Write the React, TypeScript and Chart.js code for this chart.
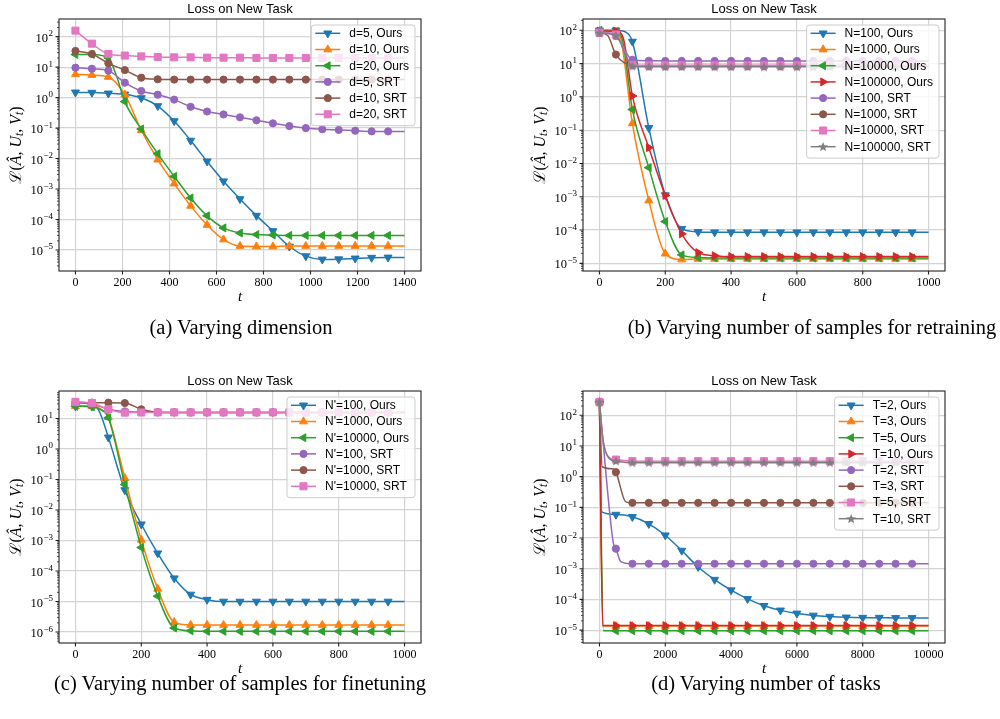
import React, { useEffect, useRef } from "react";
import { Chart, registerables } from "chart.js";

Chart.register(...registerables);

const BLUE = "#1f77b4";
const ORANGE = "#ff7f0e";
const GREEN = "#2ca02c";
const RED = "#d62728";
const PURPLE = "#9467bd";
const BROWN = "#8c564b";
const PINK = "#e377c2";
const GRAY = "#7f7f7f";

const TITLE = "Loss on New Task";

// ---------------- Panel (a): varying dimension ----------------
const T_A = [0, 70, 140, 210, 280, 350, 420, 490, 560, 630, 700, 770, 840, 910, 980, 1050, 1120, 1190, 1260, 1330, 1400];
const A_LABELS = ["d=5, Ours", "d=10, Ours", "d=20, Ours", "d=5, SRT", "d=10, SRT", "d=20, SRT"];
const A_D5_OURS = [1.49, 1.46, 1.38, 1.28, 0.97, 0.53, 0.17, 0.039, 0.0081, 0.0018, 4.7e-4, 1.34e-4, 4.2e-5, 1.3e-5, 6.3e-6, 4.9e-6, 5.0e-6, 5.3e-6, 5.6e-6, 5.7e-6, 5.7e-6];
const A_D10_OURS = [5.8, 5.5, 4.75, 1.25, 0.085, 0.0092, 0.0015, 2.8e-4, 6.6e-5, 2.2e-5, 1.35e-5, 1.3e-5, 1.3e-5, 1.35e-5, 1.35e-5, 1.35e-5, 1.35e-5, 1.35e-5, 1.35e-5, 1.35e-5, 1.35e-5];
const A_D20_OURS = [26, 26, 20, 0.74, 0.093, 0.0145, 0.0026, 5.1e-4, 1.32e-4, 5.3e-5, 3.6e-5, 3.2e-5, 3.1e-5, 3.0e-5, 3.0e-5, 3.0e-5, 3.0e-5, 3.0e-5, 3.0e-5, 3.0e-5, 3.0e-5];
const A_D5_SRT = [9.6, 8.9, 7.7, 3.1, 1.65, 1.25, 0.86, 0.5, 0.35, 0.28, 0.225, 0.18, 0.143, 0.117, 0.1, 0.091, 0.087, 0.082, 0.078, 0.078, 0.077];
const A_D10_SRT = [34, 27, 13.3, 8.0, 4.5, 4.0, 3.9, 3.9, 3.9, 3.9, 3.9, 3.9, 3.9, 3.9, 3.9, 3.9, 3.9, 3.9, 3.9, 3.9, 3.9];
const A_D20_SRT = [158, 59, 27, 24, 22.5, 21.5, 21, 21, 20.5, 20.5, 20.5, 20, 20, 20, 20, 20, 20, 20, 20, 20, 20];
const A_D20_OURS_KNEE = [[175, 5]];
const A_XTICKS = [0, 200, 400, 600, 800, 1000, 1200, 1400];
const A_YEXP = [2, 1, 0, -1, -2, -3, -4, -5];

// ---------------- Panel (b): samples for retraining ----------------
const T_B = [0, 50, 100, 150, 200, 250, 300, 350, 400, 450, 500, 550, 600, 650, 700, 750, 800, 850, 900, 950, 1000];
const B_LABELS = ["N=100, Ours", "N=1000, Ours", "N=10000, Ours", "N=100000, Ours", "N=100, SRT", "N=1000, SRT", "N=10000, SRT", "N=100000, SRT"];
const B_N100_OURS = [100, 100, 46, 0.117, 1.12e-3, 1.1e-4, 8.8e-5, 8.6e-5, 8.6e-5, 8.6e-5, 8.6e-5, 8.6e-5, 8.6e-5, 8.6e-5, 8.6e-5, 8.6e-5, 8.6e-5, 8.6e-5, 8.6e-5, 8.6e-5, 8.6e-5];
const B_N1000_OURS = [95, 88, 0.16, 7.7e-4, 1.95e-5, 1.3e-5, 1.35e-5, 1.35e-5, 1.35e-5, 1.35e-5, 1.35e-5, 1.35e-5, 1.35e-5, 1.35e-5, 1.35e-5, 1.35e-5, 1.35e-5, 1.35e-5, 1.35e-5, 1.35e-5, 1.35e-5];
const B_N10000_OURS = [100, 92, 0.42, 7.5e-3, 1.8e-4, 1.8e-5, 1.5e-5, 1.45e-5, 1.45e-5, 1.45e-5, 1.45e-5, 1.45e-5, 1.45e-5, 1.45e-5, 1.45e-5, 1.45e-5, 1.45e-5, 1.45e-5, 1.45e-5, 1.45e-5, 1.45e-5];
const B_N100000_OURS = [95, 95, 1.07, 0.03, 1.1e-3, 7.7e-5, 2.1e-5, 1.7e-5, 1.6e-5, 1.6e-5, 1.6e-5, 1.6e-5, 1.6e-5, 1.6e-5, 1.6e-5, 1.6e-5, 1.6e-5, 1.6e-5, 1.6e-5, 1.6e-5, 1.6e-5];
const B_N100_SRT = [92, 68, 13, 12.2, 12, 12, 12, 12, 12, 12, 12, 12, 12, 12, 12, 12, 12, 12, 12, 12, 12];
const B_N1000_SRT = [85, 18.7, 8.9, 8.3, 8.3, 8.3, 8.3, 8.3, 8.3, 8.3, 8.3, 8.3, 8.3, 8.3, 8.3, 8.3, 8.3, 8.3, 8.3, 8.3, 8.3];
const B_N10000_SRT = [85, 75, 9.1, 8.9, 8.9, 8.9, 8.9, 8.9, 8.9, 8.9, 8.9, 8.9, 8.9, 8.9, 8.9, 8.9, 8.9, 8.9, 8.9, 8.9, 8.9];
const B_N100000_SRT = [82, 70, 8.3, 8.0, 8.0, 8.0, 8.0, 8.0, 8.0, 8.0, 8.0, 8.0, 8.0, 8.0, 8.0, 8.0, 8.0, 8.0, 8.0, 8.0, 8.0];
const B_N100_OURS_KNEE = [[80, 88]];
const B_N1000_OURS_KNEE = [[65, 55]];
const B_N10000_OURS_KNEE = [[68, 60]];
const B_N100000_OURS_KNEE = [[72, 60]];
const B_N1000_SRT_KNEE = [[25, 70]];
const B_XTICKS = [0, 200, 400, 600, 800, 1000];
const B_YEXP = [2, 1, 0, -1, -2, -3, -4, -5];

// ---------------- Panel (c): samples for finetuning ----------------
const T_C = [0, 50, 100, 150, 200, 250, 300, 350, 400, 450, 500, 550, 600, 650, 700, 750, 800, 850, 900, 950, 1000];
const C_LABELS = ["N'=100, Ours", "N'=1000, Ours", "N'=10000, Ours", "N'=100, SRT", "N'=1000, SRT", "N'=10000, SRT"];
const C_N100_OURS = [25, 25, 2.4, 0.045, 3.4e-3, 3.8e-4, 5.8e-5, 1.7e-5, 1.15e-5, 1.0e-5, 1.0e-5, 1.0e-5, 1.0e-5, 1.0e-5, 1.0e-5, 1.0e-5, 1.0e-5, 1.0e-5, 1.0e-5, 1.0e-5, 1.0e-5];
const C_N1000_OURS = [25, 25, 11, 0.11, 1.05e-3, 2.6e-5, 2.1e-6, 1.7e-6, 1.7e-6, 1.7e-6, 1.7e-6, 1.7e-6, 1.7e-6, 1.7e-6, 1.7e-6, 1.7e-6, 1.7e-6, 1.7e-6, 1.7e-6, 1.7e-6, 1.7e-6];
const C_N10000_OURS = [25, 24, 10.5, 0.068, 5.9e-4, 1.5e-5, 1.35e-6, 1.1e-6, 1.05e-6, 1.05e-6, 1.05e-6, 1.05e-6, 1.05e-6, 1.05e-6, 1.05e-6, 1.05e-6, 1.05e-6, 1.05e-6, 1.05e-6, 1.05e-6, 1.05e-6];
const C_N100_SRT = [33, 30, 20, 17, 16.3, 15.8, 15.8, 15.8, 15.8, 15.8, 15.8, 15.8, 15.8, 15.8, 15.8, 15.8, 15.8, 15.8, 15.8, 15.8, 15.8];
const C_N1000_SRT = [34, 33, 33, 32, 20, 16, 15.8, 15.8, 15.8, 15.8, 15.8, 15.8, 15.8, 15.8, 15.8, 15.8, 15.8, 15.8, 15.8, 15.8, 15.8];
const C_N10000_SRT = [35, 32, 20, 15.5, 15.7, 15.8, 15.8, 15.8, 15.8, 15.8, 15.8, 15.8, 15.8, 15.8, 15.8, 15.8, 15.8, 15.8, 15.8, 15.8, 15.8];
const C_N100_OURS_KNEE = [[70, 19]];
const C_N1000_OURS_KNEE = [[75, 21]];
const C_N10000_OURS_KNEE = [[75, 20]];
const C_XTICKS = [0, 200, 400, 600, 800, 1000];
const C_YEXP = [1, 0, -1, -2, -3, -4, -5, -6];

// ---------------- Panel (d): number of tasks ----------------
const T_D = [0, 500, 1000, 1500, 2000, 2500, 3000, 3500, 4000, 4500, 5000, 5500, 6000, 6500, 7000, 7500, 8000, 8500, 9000, 9500, 10000];
const D_LABELS = ["T=2, Ours", "T=3, Ours", "T=5, Ours", "T=10, Ours", "T=2, SRT", "T=3, SRT", "T=5, SRT", "T=10, SRT"];
const D_T2_OURS = [270, 0.058, 0.049, 0.029, 0.0123, 3.9e-3, 1.14e-3, 4.4e-4, 2.0e-4, 1.04e-4, 6.2e-5, 4.4e-5, 3.5e-5, 3.0e-5, 2.75e-5, 2.6e-5, 2.55e-5, 2.55e-5, 2.5e-5, 2.5e-5, 2.5e-5];
const D_T3_OURS = [270, 1.35e-5, 1.35e-5, 1.35e-5, 1.35e-5, 1.35e-5, 1.35e-5, 1.35e-5, 1.35e-5, 1.35e-5, 1.35e-5, 1.35e-5, 1.35e-5, 1.35e-5, 1.35e-5, 1.35e-5, 1.35e-5, 1.35e-5, 1.35e-5, 1.35e-5, 1.35e-5];
const D_T5_OURS = [270, 9.5e-6, 9.5e-6, 9.5e-6, 9.5e-6, 9.5e-6, 9.5e-6, 9.5e-6, 9.5e-6, 9.5e-6, 9.5e-6, 9.5e-6, 9.5e-6, 9.5e-6, 9.5e-6, 9.5e-6, 9.5e-6, 9.5e-6, 9.5e-6, 9.5e-6, 9.5e-6];
const D_T10_OURS = [270, 1.4e-5, 1.4e-5, 1.4e-5, 1.4e-5, 1.4e-5, 1.4e-5, 1.4e-5, 1.4e-5, 1.4e-5, 1.4e-5, 1.4e-5, 1.4e-5, 1.4e-5, 1.4e-5, 1.4e-5, 1.4e-5, 1.4e-5, 1.4e-5, 1.4e-5, 1.4e-5];
const D_T2_SRT = [270, 4.5e-3, 1.45e-3, 1.45e-3, 1.45e-3, 1.45e-3, 1.45e-3, 1.45e-3, 1.45e-3, 1.45e-3, 1.45e-3, 1.45e-3, 1.45e-3, 1.45e-3, 1.45e-3, 1.45e-3, 1.45e-3, 1.45e-3, 1.45e-3, 1.45e-3, 1.45e-3];
const D_T3_SRT = [270, 1.4, 0.14, 0.14, 0.14, 0.14, 0.14, 0.14, 0.14, 0.14, 0.14, 0.14, 0.14, 0.14, 0.14, 0.14, 0.14, 0.14, 0.14, 0.14, 0.14];
const D_T5_SRT = [270, 3.6, 3.2, 3.2, 3.2, 3.2, 3.2, 3.2, 3.2, 3.2, 3.2, 3.2, 3.2, 3.2, 3.2, 3.2, 3.2, 3.2, 3.2, 3.2, 3.2];
const D_T10_SRT = [270, 3.2, 2.85, 2.85, 2.85, 2.85, 2.85, 2.85, 2.85, 2.85, 2.85, 2.85, 2.85, 2.85, 2.85, 2.85, 2.85, 2.85, 2.85, 2.85, 2.85];
const D_T2_OURS_KNEE = [[60, 0.072]];
const D_T3_OURS_KNEE = [[100, 1.35e-5]];
const D_T5_OURS_KNEE = [[120, 9.5e-6]];
const D_T10_OURS_KNEE = [[100, 1.4e-5]];
const D_T2_SRT_KNEE = [[100, 18], [420, 7e-3], [650, 1.7e-3]];
const D_T3_SRT_KNEE = [[80, 2.1], [400, 1.8], [800, 0.15]];
const D_T5_SRT_KNEE = [[100, 17], [300, 4.2]];
const D_T10_SRT_KNEE = [[100, 18], [300, 3.8]];
const D_XTICKS = [0, 2000, 4000, 6000, 8000, 10000];
const D_YEXP = [2, 1, 0, -1, -2, -3, -4, -5];

const CAPTIONS = [
  { text: "(a) Varying dimension", cx: 241, cy: 327 },
  { text: "(b) Varying number of samples for retraining", cx: 812, cy: 327 },
  { text: "(c) Varying number of samples for finetuning", cx: 240, cy: 683 },
  { text: "(d) Varying number of tasks", cx: 766, cy: 683 },
];

// ---------------------------------------------------------------
const W = 500;
const H = 320;
const SERIF = '"Liberation Serif", "DejaVu Serif", "Times New Roman", serif';
const SANS = '"Liberation Sans", Arial, Helvetica, sans-serif';

type Series = { label: string; color: string; marker: string; ys: number[]; knees?: number[][] };
type PanelSpec = {
  left: number;
  top: number;
  plot: { l: number; r: number; t: number; b: number };
  xs: number[];
  xMin: number;
  xMax: number;
  xTicks: number[];
  yExps: number[];
  yMin: number;
  yMax: number;
  series: Series[];
};

const PANELS: PanelSpec[] = [
  {
    left: 0, top: 0, plot: { l: 59, r: 421, t: 19, b: 271 },
    xs: T_A, xMin: -70, xMax: 1470, xTicks: A_XTICKS, yExps: A_YEXP, yMin: -5.69, yMax: 2.58,
    series: [
      { label: A_LABELS[0], color: BLUE, marker: "v", ys: A_D5_OURS },
      { label: A_LABELS[1], color: ORANGE, marker: "^", ys: A_D10_OURS },
      { label: A_LABELS[2], color: GREEN, marker: "<", ys: A_D20_OURS, knees: A_D20_OURS_KNEE },
      { label: A_LABELS[3], color: PURPLE, marker: "o", ys: A_D5_SRT },
      { label: A_LABELS[4], color: BROWN, marker: "o", ys: A_D10_SRT },
      { label: A_LABELS[5], color: PINK, marker: "s", ys: A_D20_SRT },
    ],
  },
  {
    left: 500, top: 0, plot: { l: 83, r: 445, t: 19, b: 271 },
    xs: T_B, xMin: -50, xMax: 1050, xTicks: B_XTICKS, yExps: B_YEXP, yMin: -5.23, yMax: 2.34,
    series: [
      { label: B_LABELS[0], color: BLUE, marker: "v", ys: B_N100_OURS, knees: B_N100_OURS_KNEE },
      { label: B_LABELS[1], color: ORANGE, marker: "^", ys: B_N1000_OURS, knees: B_N1000_OURS_KNEE },
      { label: B_LABELS[2], color: GREEN, marker: "<", ys: B_N10000_OURS, knees: B_N10000_OURS_KNEE },
      { label: B_LABELS[3], color: RED, marker: ">", ys: B_N100000_OURS, knees: B_N100000_OURS_KNEE },
      { label: B_LABELS[4], color: PURPLE, marker: "o", ys: B_N100_SRT },
      { label: B_LABELS[5], color: BROWN, marker: "o", ys: B_N1000_SRT, knees: B_N1000_SRT_KNEE },
      { label: B_LABELS[6], color: PINK, marker: "s", ys: B_N10000_SRT },
      { label: B_LABELS[7], color: GRAY, marker: "*", ys: B_N100000_SRT },
    ],
  },
  {
    left: 0, top: 360, plot: { l: 59, r: 421, t: 31, b: 283 },
    xs: T_C, xMin: -50, xMax: 1050, xTicks: C_XTICKS, yExps: C_YEXP, yMin: -6.36, yMax: 1.9,
    series: [
      { label: C_LABELS[0], color: BLUE, marker: "v", ys: C_N100_OURS, knees: C_N100_OURS_KNEE },
      { label: C_LABELS[1], color: ORANGE, marker: "^", ys: C_N1000_OURS, knees: C_N1000_OURS_KNEE },
      { label: C_LABELS[2], color: GREEN, marker: "<", ys: C_N10000_OURS, knees: C_N10000_OURS_KNEE },
      { label: C_LABELS[3], color: PURPLE, marker: "o", ys: C_N100_SRT },
      { label: C_LABELS[4], color: BROWN, marker: "o", ys: C_N1000_SRT },
      { label: C_LABELS[5], color: PINK, marker: "s", ys: C_N10000_SRT },
    ],
  },
  {
    left: 500, top: 360, plot: { l: 83, r: 445, t: 31, b: 283 },
    xs: T_D, xMin: -500, xMax: 10500, xTicks: D_XTICKS, yExps: D_YEXP, yMin: -5.42, yMax: 2.79,
    series: [
      { label: D_LABELS[0], color: BLUE, marker: "v", ys: D_T2_OURS, knees: D_T2_OURS_KNEE },
      { label: D_LABELS[1], color: ORANGE, marker: "^", ys: D_T3_OURS, knees: D_T3_OURS_KNEE },
      { label: D_LABELS[2], color: GREEN, marker: "<", ys: D_T5_OURS, knees: D_T5_OURS_KNEE },
      { label: D_LABELS[3], color: RED, marker: ">", ys: D_T10_OURS, knees: D_T10_OURS_KNEE },
      { label: D_LABELS[4], color: PURPLE, marker: "o", ys: D_T2_SRT, knees: D_T2_SRT_KNEE },
      { label: D_LABELS[5], color: BROWN, marker: "o", ys: D_T3_SRT, knees: D_T3_SRT_KNEE },
      { label: D_LABELS[6], color: PINK, marker: "s", ys: D_T5_SRT, knees: D_T5_SRT_KNEE },
      { label: D_LABELS[7], color: GRAY, marker: "*", ys: D_T10_SRT, knees: D_T10_SRT_KNEE },
    ],
  },
];

const TRI_R = 4.6;
const CIRC_R = 3.6;
const RECT_R = 5;

function starPath(ctx: CanvasRenderingContext2D, cx: number, cy: number, ro: number, ri: number) {
  ctx.beginPath();
  for (let k = 0; k < 10; k++) {
    const a = -Math.PI / 2 + (k * Math.PI) / 5;
    const rr = k % 2 === 0 ? ro : ri;
    const px = cx + Math.cos(a) * rr;
    const py = cy + Math.sin(a) * rr;
    if (k === 0) ctx.moveTo(px, py);
    else ctx.lineTo(px, py);
  }
  ctx.closePath();
}

const starCache: Record<string, HTMLCanvasElement> = {};
function starImage(color: string) {
  if (starCache[color]) return starCache[color];
  const c = document.createElement("canvas");
  c.width = 12;
  c.height = 12;
  const g = c.getContext("2d")!;
  g.fillStyle = color;
  starPath(g, 6, 6.4, 5.2, 2.2);
  g.fill();
  starCache[color] = c;
  return c;
}

function markerOpts(marker: string, color: string) {
  switch (marker) {
    case "v": return { style: "triangle" as any, rot: 180, r: TRI_R };
    case "^": return { style: "triangle" as any, rot: 0, r: TRI_R };
    case "<": return { style: "triangle" as any, rot: 270, r: TRI_R };
    case ">": return { style: "triangle" as any, rot: 90, r: TRI_R };
    case "s": return { style: "rect" as any, rot: 0, r: RECT_R };
    case "*": return { style: starImage(color) as any, rot: 0, r: 4 };
    default: return { style: "circle" as any, rot: 0, r: CIRC_R };
  }
}

function drawMarker(ctx: CanvasRenderingContext2D, marker: string, x: number, y: number, color: string) {
  ctx.save();
  ctx.fillStyle = color;
  ctx.strokeStyle = color;
  ctx.lineWidth = 1;
  const m = markerOpts(marker, color);
  if (marker === "*") {
    starPath(ctx, x, y + 0.4, 5.2, 2.2);
    ctx.fill();
  } else if (m.style === "triangle") {
    let rad = (m.rot * Math.PI) / 180;
    ctx.beginPath();
    ctx.moveTo(x + Math.sin(rad) * m.r, y - Math.cos(rad) * m.r);
    rad += (2 * Math.PI) / 3;
    ctx.lineTo(x + Math.sin(rad) * m.r, y - Math.cos(rad) * m.r);
    rad += (2 * Math.PI) / 3;
    ctx.lineTo(x + Math.sin(rad) * m.r, y - Math.cos(rad) * m.r);
    ctx.closePath();
    ctx.fill();
    ctx.stroke();
  } else if (m.style === "rect") {
    const s = Math.SQRT1_2 * m.r;
    ctx.beginPath();
    ctx.rect(x - s, y - s, 2 * s, 2 * s);
    ctx.fill();
    ctx.stroke();
  } else {
    ctx.beginPath();
    ctx.arc(x, y, m.r, 0, Math.PI * 2);
    ctx.fill();
    ctx.stroke();
  }
  ctx.restore();
}

function overlayPlugin(spec: PanelSpec) {
  return {
    id: "overlay",
    afterDraw(chart: any) {
      const ctx: CanvasRenderingContext2D = chart.ctx;
      const { left, right, top, bottom } = chart.chartArea;
      const xs = chart.scales.x;
      const ys = chart.scales.y;
      ctx.save();

      // frame
      ctx.strokeStyle = "#222";
      ctx.lineWidth = 1.1;
      ctx.strokeRect(left, top, right - left, bottom - top);

      // major ticks
      ctx.beginPath();
      spec.xTicks.forEach((v) => {
        const px = xs.getPixelForValue(v);
        ctx.moveTo(px, bottom);
        ctx.lineTo(px, bottom + 3.5);
      });
      spec.yExps.forEach((e) => {
        const py = ys.getPixelForValue(Math.pow(10, e));
        ctx.moveTo(left, py);
        ctx.lineTo(left - 3.5, py);
      });
      ctx.stroke();

      // minor ticks on y
      ctx.beginPath();
      ctx.lineWidth = 0.8;
      for (let e = Math.floor(spec.yMin); e <= Math.ceil(spec.yMax); e++) {
        for (let k = 2; k <= 9; k++) {
          const v = k * Math.pow(10, e);
          const lv = Math.log10(v);
          if (lv < spec.yMin || lv > spec.yMax) continue;
          const py = ys.getPixelForValue(v);
          ctx.moveTo(left, py);
          ctx.lineTo(left - 2, py);
        }
      }
      ctx.stroke();

      // x tick labels
      ctx.fillStyle = "#000";
      ctx.font = `12px ${SERIF}`;
      ctx.textAlign = "center";
      ctx.textBaseline = "middle";
      spec.xTicks.forEach((v) => ctx.fillText(String(v), xs.getPixelForValue(v), bottom + 12));

      // y tick labels 10^e
      spec.yExps.forEach((e) => {
        const py = ys.getPixelForValue(Math.pow(10, e));
        ctx.font = `12.5px ${SERIF}`;
        const bw = ctx.measureText("10").width;
        const es = e < 0 ? "\u2212" + String(-e) : String(e);
        ctx.font = `9px ${SERIF}`;
        const ew = ctx.measureText(es).width;
        const x0 = left - 6 - bw - ew - 0.5;
        ctx.textAlign = "left";
        ctx.textBaseline = "alphabetic";
        ctx.font = `12.5px ${SERIF}`;
        ctx.fillText("10", x0, py + 5);
        ctx.font = `9px ${SERIF}`;
        ctx.fillText(es, x0 + bw + 0.5, py - 0.5);
      });

      // chart title
      ctx.font = `13px ${SANS}`;
      ctx.textAlign = "center";
      ctx.textBaseline = "middle";
      ctx.fillText(TITLE, (left + right) / 2, top - 10);

      // x title
      ctx.font = `italic 15px ${SERIF}`;
      ctx.fillText("t", (left + right) / 2, bottom + 26);

      // y title  L(Â, U_t, V_t)
      const segs: { t: string; f: string; dy: number }[] = [
        { t: "\u2112", f: `16px ${SERIF}`, dy: 0 },
        { t: "(", f: `16px ${SERIF}`, dy: 0 },
        { t: "\u00C2", f: `italic 16px ${SERIF}`, dy: 0 },
        { t: ", ", f: `16px ${SERIF}`, dy: 0 },
        { t: "U", f: `italic 16px ${SERIF}`, dy: 0 },
        { t: "t", f: `italic 11.5px ${SERIF}`, dy: 3 },
        { t: ", ", f: `16px ${SERIF}`, dy: 0 },
        { t: "V", f: `italic 16px ${SERIF}`, dy: 0 },
        { t: "t", f: `italic 11.5px ${SERIF}`, dy: 3 },
        { t: ")", f: `16px ${SERIF}`, dy: 0 },
      ];
      let total = 0;
      const widths = segs.map((s) => {
        ctx.font = s.f;
        const w = ctx.measureText(s.t).width;
        total += w;
        return w;
      });
      ctx.save();
      ctx.translate(left - 42, (top + bottom) / 2);
      ctx.rotate(-Math.PI / 2);
      ctx.textAlign = "left";
      ctx.textBaseline = "middle";
      let cx = -total / 2;
      segs.forEach((s, i) => {
        ctx.font = s.f;
        ctx.fillText(s.t, cx, s.dy);
        cx += widths[i];
      });
      ctx.restore();

      // legend
      ctx.font = `12px ${SANS}`;
      const labels = spec.series.map((s) => s.label);
      const maxW = Math.max(...labels.map((l) => ctx.measureText(l).width));
      const rowH = 16.2;
      const boxR = right - 6;
      const boxT = top + 6;
      const boxW = 4 + 25 + 9 + maxW + 6;
      const boxL = boxR - boxW;
      const boxH = labels.length * rowH + 3.5;
      ctx.beginPath();
      (ctx as any).roundRect(boxL, boxT, boxW, boxH, 3);
      ctx.fillStyle = "rgba(255,255,255,0.8)";
      ctx.fill();
      ctx.strokeStyle = "#cccccc";
      ctx.lineWidth = 1;
      ctx.stroke();
      spec.series.forEach((s, i) => {
        const cy = boxT + 8.3 + i * rowH;
        ctx.beginPath();
        ctx.strokeStyle = s.color;
        ctx.lineWidth = 1.5;
        ctx.moveTo(boxL + 4, cy);
        ctx.lineTo(boxL + 29, cy);
        ctx.stroke();
        drawMarker(ctx, s.marker, boxL + 16.5, cy, s.color);
        ctx.fillStyle = "#000";
        ctx.font = `12px ${SANS}`;
        ctx.textAlign = "left";
        ctx.textBaseline = "middle";
        ctx.fillText(s.label, boxL + 38, cy + 0.5);
      });

      ctx.restore();
    },
  };
}

function buildConfig(spec: PanelSpec): any {
  const datasets = spec.series.map((s, i) => {
    const pts: { x: number; y: number; m: boolean }[] = spec.xs.map((x, j) => ({
      x,
      y: s.ys[j],
      m: j < spec.xs.length - 1,
    }));
    (s.knees || []).forEach(([x, y]) => pts.push({ x, y, m: false }));
    pts.sort((a, b) => a.x - b.x);
    const mo = markerOpts(s.marker, s.color);
    return {
      label: s.label,
      data: pts,
      borderColor: s.color,
      backgroundColor: s.color,
      borderWidth: 1.5,
      cubicInterpolationMode: "monotone",
      pointStyle: mo.style,
      pointRotation: mo.rot,
      pointRadius: (c: any) => (c.raw && c.raw.m ? mo.r : 0),
      pointHoverRadius: 0,
      pointBorderWidth: 1,
      pointBorderColor: s.color,
      pointBackgroundColor: s.color,
      order: -i,
    };
  });
  const { l, r, t, b } = spec.plot;
  return {
    type: "line",
    data: { datasets },
    options: {
      animation: false,
      responsive: false,
      maintainAspectRatio: false,
      devicePixelRatio: 1,
      layout: { padding: { left: 0, right: W - r, top: t, bottom: 0 } },
      plugins: { legend: { display: false }, title: { display: false }, tooltip: { enabled: false } },
      events: [],
      scales: {
        x: {
          type: "linear",
          min: spec.xMin,
          max: spec.xMax,
          afterBuildTicks: (sc: any) => {
            sc.ticks = spec.xTicks.map((v) => ({ value: v }));
          },
          afterFit: (sc: any) => {
            sc.height = H - b;
          },
          ticks: { display: false },
          grid: { color: "#d4d4d4", lineWidth: 1.2, drawTicks: false },
          border: { display: false },
        },
        y: {
          type: "logarithmic",
          min: Math.pow(10, spec.yMin),
          max: Math.pow(10, spec.yMax),
          afterBuildTicks: (sc: any) => {
            sc.ticks = spec.yExps.map((e) => ({ value: Math.pow(10, e) }));
          },
          afterFit: (sc: any) => {
            sc.width = l;
          },
          ticks: { display: false },
          grid: { color: "#d4d4d4", lineWidth: 1.2, drawTicks: false },
          border: { display: false },
        },
      },
    },
    plugins: [overlayPlugin(spec)],
  };
}

function Panel({ spec }: { spec: PanelSpec }) {
  const ref = useRef<HTMLCanvasElement>(null);
  useEffect(() => {
    if (!ref.current) return;
    const chart = new Chart(ref.current, buildConfig(spec));
    return () => chart.destroy();
  }, [spec]);
  return (
    <canvas
      ref={ref}
      width={W}
      height={H}
      style={{ position: "absolute", left: spec.left, top: spec.top, width: W, height: H }}
    />
  );
}

export default function App() {
  return (
    <div
      style={{
        position: "absolute",
        left: 0,
        top: 0,
        width: 1000,
        height: 719,
        background: "#fff",
        overflow: "hidden",
      }}
    >
      {PANELS.map((p, i) => (
        <Panel key={i} spec={p} />
      ))}
      {CAPTIONS.map((c, i) => (
        <div
          key={"c" + i}
          style={{
            position: "absolute",
            left: c.cx - 300,
            width: 600,
            top: c.cy - 12,
            height: 24,
            lineHeight: "24px",
            textAlign: "center",
            fontFamily: SERIF,
            fontSize: 20.5,
            color: "#000",
            whiteSpace: "nowrap",
          }}
        >
          {c.text}
        </div>
      ))}
    </div>
  );
}
